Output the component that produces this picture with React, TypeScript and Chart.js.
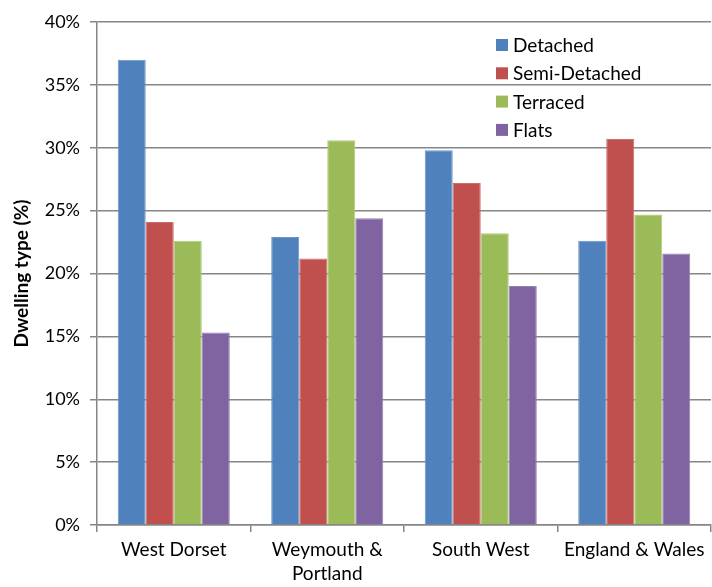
import { useEffect, useRef } from "react";
import { Chart, registerables } from "chart.js";

Chart.register(...registerables);

const categories: (string | string[])[] = [
  "West Dorset",
  ["Weymouth &", "Portland"],
  "South West",
  "England & Wales",
];
const detached = [37.0, 22.9, 29.8, 22.6];
const semiDetached = [24.1, 21.2, 27.2, 30.7];
const terraced = [22.6, 30.6, 23.2, 24.7];
const flats = [15.3, 24.4, 19.0, 21.6];
const seriesNames = ["Detached", "Semi-Detached", "Terraced", "Flats"];
const seriesColors = ["#4F81BD", "#C0504D", "#9BBB59", "#8064A2"];
const borderColors = ["#6C95C9", "#CC6E6B", "#AFC97A", "#9580B2"];

const FONT = "Lato, 'Open Sans', sans-serif";

// Legend drawn inside the plot area, top right
const insideLegend = {
  id: "insideLegend",
  afterDraw(chart: Chart) {
    const ctx = chart.ctx;
    ctx.save();
    ctx.font = `19px ${FONT}`;
    ctx.textBaseline = "middle";
    ctx.textAlign = "left";
    const x = 496;
    const y0 = 45;
    const gap = 28.3;
    seriesNames.forEach((name, i) => {
      const y = y0 + i * gap;
      ctx.fillStyle = seriesColors[i];
      ctx.fillRect(x, y - 6, 12, 12);
      ctx.fillStyle = "#000";
      ctx.fillText(name, x + 17, y + 1);
    });
    ctx.restore();
  },
};

export default function App() {
  const ref = useRef<HTMLCanvasElement | null>(null);

  useEffect(() => {
    if (!ref.current) return;
    const data = [detached, semiDetached, terraced, flats];
    const chart = new Chart(ref.current, {
      type: "bar",
      data: {
        labels: categories,
        datasets: seriesNames.map((name, i) => ({
          label: name,
          data: data[i],
          backgroundColor: seriesColors[i],
          borderColor: borderColors[i],
          borderWidth: 1,
          categoryPercentage: 0.73,
          barPercentage: 1,
        })),
      },
      options: {
        animation: false,
        responsive: false,
        maintainAspectRatio: false,
        layout: { padding: { left: 0, right: 1, top: 22, bottom: 0 } },
        plugins: {
          legend: { display: false },
          tooltip: { enabled: false },
        },
        scales: {
          x: {
            grid: {
              offset: true,
              drawOnChartArea: false,
              color: "#868686",
              lineWidth: 1.5,
              tickLength: 7,
            },
            border: { color: "#868686", width: 1.5 },
            ticks: {
              color: "#000",
              font: { family: FONT, size: 19, lineHeight: 1.25 },
              padding: 6,
              maxRotation: 0,
              autoSkip: false,
            },
            afterFit(scale: any) {
              scale.height = 62;
            },
          },
          y: {
            min: 0,
            max: 40,
            grid: {
              color: "#868686",
              lineWidth: 1.5,
              tickLength: 7,
            },
            border: { color: "#868686", width: 1.5 },
            ticks: {
              stepSize: 5,
              color: "#000",
              padding: 10,
              font: { family: FONT, size: 18 },
              callback: (v: any) => `${v}%`,
            },
            title: {
              display: true,
              text: "Dwelling type (%)",
              color: "#000",
              font: { family: FONT, size: 19, weight: "bold" },
              padding: { top: 10, bottom: 0 },
            },
            afterFit(scale: any) {
              scale.width = 97;
            },
          },
        },
      },
      plugins: [insideLegend],
    });
    return () => chart.destroy();
  }, []);

  return (
    <div style={{ position: "fixed", left: 0, top: 0, width: 712, height: 587, background: "#fff" }}>
      <canvas ref={ref} width={712} height={587} style={{ width: 712, height: 587 }} />
    </div>
  );
}
